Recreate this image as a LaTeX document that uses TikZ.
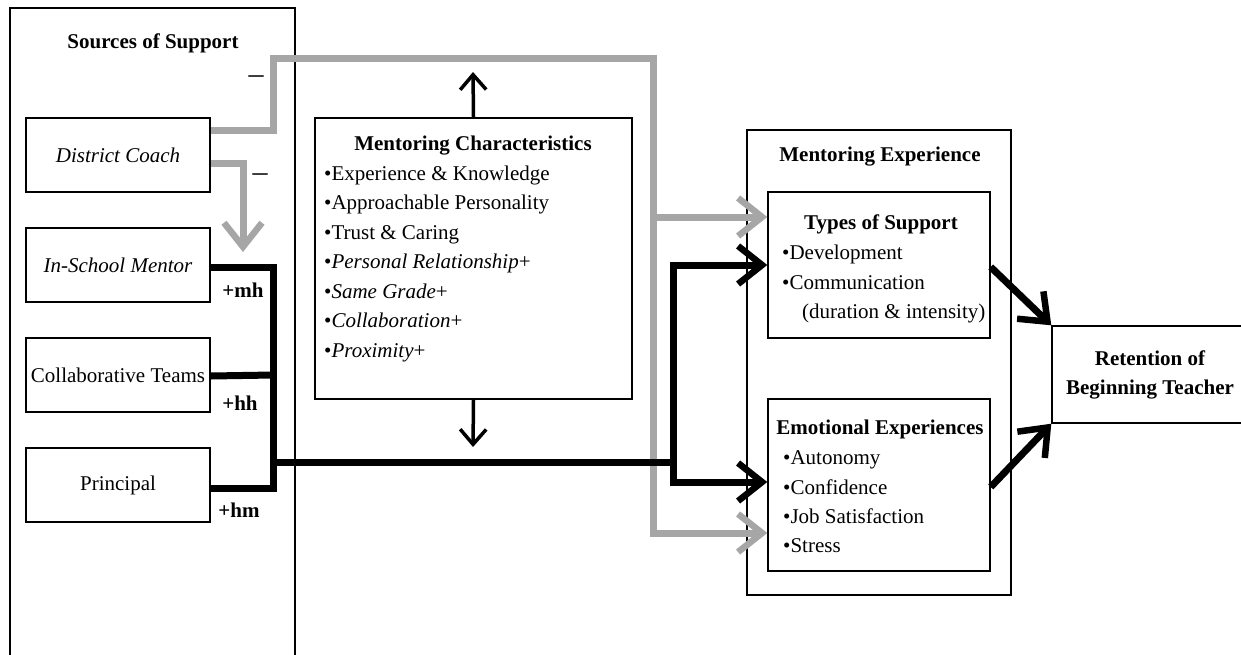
\documentclass[tikz,border=0pt]{standalone}
\usepackage{fontspec}
\setmainfont{Liberation Serif}
\usetikzlibrary{arrows.meta}
\definecolor{lg}{RGB}{166,166,166}
\begin{document}
\fontsize{21}{25}\selectfont
\begin{tikzpicture}[x=1pt,y=-1pt,
  bx/.style={draw,line width=1.4pt,inner sep=0pt},
  lt/.style={anchor=base west,inner sep=0pt},
  tt/.style={anchor=base,inner sep=0pt,font=\bfseries},
  gr/.style={draw=lg,line width=7pt,line join=miter,-{Straight Barb[length=24pt,width=38pt,line width=6.5pt]}},
  bk/.style={draw=black,line width=7pt,line join=miter},
  bka/.style={draw=black,line width=7pt,line join=miter,-{Straight Barb[length=24pt,width=38pt,line width=6.5pt]}},
  md/.style={draw=black,line width=3.5pt,-{Straight Barb[length=15pt,width=26pt,line width=3.5pt]}},
  dsh/.style={inner sep=0pt,font=\fontsize{30}{30}\selectfont}]
\useasboundingbox (0,0) rectangle (1241,654);
\fill[white] (0,0) rectangle (1241,654);
% left panel
\node[bx,minimum width=285pt,minimum height=662pt] (src) at (152.5,339) {};
\node[tt] (srct) at (153,48) {Sources of Support};
\node[bx,minimum width=184pt,minimum height=74pt,font=\itshape] (dc) at (118,155) {District Coach};
\node[bx,minimum width=184pt,minimum height=74pt,font=\itshape] (ism) at (118,265) {In-School Mentor};
\node[bx,minimum width=184pt,minimum height=74pt] (ct) at (118,375) {Collaborative Teams};
\node[bx,minimum width=184pt,minimum height=74pt] (pr) at (118,485) {Principal};
% mentoring characteristics
\node[bx,minimum width=317pt,minimum height=281pt] (mc) at (473.5,258.5) {};
\node[tt] (mct) at (473,150) {Mentoring Characteristics};
\node[lt] (m1) at (324,180) {•Experience \& Knowledge};
\node[lt] (m2) at (324,209.5) {•Approachable Personality};
\node[lt] (m3) at (324,239) {•Trust \& Caring};
\node[lt] (m4) at (324,268.5) {•\textit{Personal Relationship}+};
\node[lt] (m5) at (324,298) {•\textit{Same Grade}+};
\node[lt] (m6) at (324,327.5) {•\textit{Collaboration}+};
\node[lt] (m7) at (324,357) {•\textit{Proximity}+};
% mentoring experience
\node[bx,minimum width=264pt,minimum height=465pt] (me) at (879,362.5) {};
\node[tt] (met) at (880,161) {Mentoring Experience};
\node[bx,minimum width=222pt,minimum height=146pt] (ts) at (879,265) {};
\node[tt] (tst) at (881,229) {Types of Support};
\node[lt] (t1) at (782,259) {•Development};
\node[lt] (t2) at (782,289) {•Communication};
\node[lt] (t3) at (802,318) {(duration \& intensity)};
\node[bx,minimum width=222pt,minimum height=172pt] (ee) at (879,485) {};
\node[tt] (eet) at (880,434) {Emotional Experiences};
\node[lt] (e1) at (783,464) {•Autonomy};
\node[lt] (e2) at (783,494) {•Confidence};
\node[lt] (e3) at (783,523) {•Job Satisfaction};
\node[lt] (e4) at (783,552) {•Stress};
% retention
\node[bx,minimum width=196pt,minimum height=97pt,font=\bfseries,align=center] (ret) at (1150,374.5) {Retention of\\[4pt]Beginning Teacher};
% labels
\node[dsh] (n1) at (256,80) {–};
\node[dsh] (n2) at (260,178) {–};
\node[inner sep=0pt,font=\bfseries] (lmh) at (243,290) {+mh};
\node[inner sep=0pt,font=\bfseries] (lhh) at (240,403) {+hh};
\node[inner sep=0pt,font=\bfseries] (lhm) at (239,510) {+hm};
% coordinates
\coordinate (gc1) at (273,58);
\coordinate (gc2) at (653,58);
\coordinate (gts) at ([yshift=48pt]ts.west);
\coordinate (gee) at ([yshift=-48pt]ee.west);
\coordinate (gd) at (243,252);
\coordinate (jt) at (273,267);
\coordinate (jb) at (273,488);
\coordinate (jm) at (273,462);
\coordinate (jr) at (673,462);
\coordinate (mcu) at (473,72);
\coordinate (mcd) at (473,447);
% gray connectors
\draw[gr] ([yshift=25pt]dc.east) -| (gc1) -- (gc2) |- (gee);
\draw[gr] (gc2 |- gts) -- (gts);
\draw[gr] ([yshift=-8pt]dc.east) -| (gd);
% black connectors
\draw[bk] ([yshift=-2pt]ism.east) -- (jt) -- (jb) -- ([yshift=-3pt]pr.east);
\draw[bk] ([yshift=-1pt]ct.east) -- (jt |- ct.east);
\draw[bk] (jm) -- (jr);
\draw[bka] (jr) |- (ts.west);
\draw[bka] (jr) |- ([yshift=3pt]ee.west);
\draw[bka] ([yshift=-2pt]ts.east) -- (ret.north west);
\draw[bka] ([yshift=-2pt]ee.east) -- (ret.south west);
\draw[md] (mc.north) -- (mcu);
\draw[md] (mc.south) -- (mcd);
\end{tikzpicture}
\end{document}
